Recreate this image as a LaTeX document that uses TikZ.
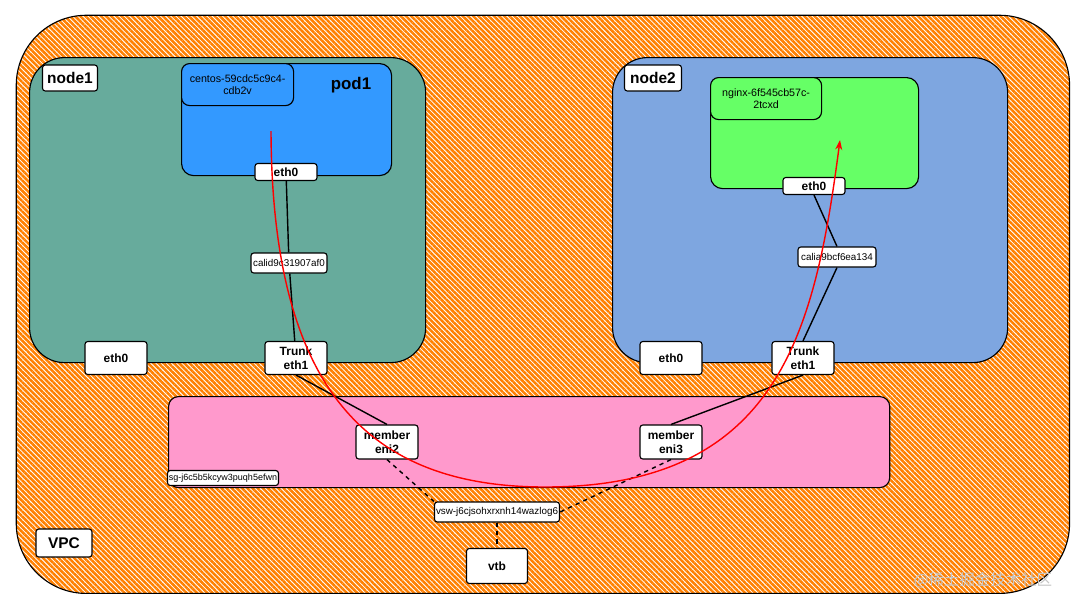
\documentclass[tikz,border=0pt]{standalone}
\usepackage{fontspec}
\setmainfont{Liberation Sans}
\newfontfamily\cjk{Noto Sans CJK SC}
\usetikzlibrary{patterns.meta,arrows.meta}
\definecolor{vpcorange}{HTML}{FF8000}
\definecolor{hostteal}{HTML}{67AB9C}
\definecolor{hostblue}{HTML}{7EA6E0}
\definecolor{podblue}{HTML}{3399FF}
\definecolor{podgreen}{HTML}{66FF66}
\definecolor{enipink}{HTML}{FF99CC}
\begin{document}
\begin{tikzpicture}[x=0.025cm,y=-0.025cm,
  area/.style={draw,line width=0.8pt,inner sep=0pt,anchor=north west},
  tag/.style={draw,fill=white,line width=0.8pt,rounded corners=2pt,inner sep=0pt,align=center},
  big/.style={font=\bfseries\fontsize{11}{12}\selectfont},
  mid/.style={font=\bfseries\fontsize{8.5}{10}\selectfont},
  tiny/.style={font=\fontsize{7}{8}\selectfont},
  link/.style={line width=1pt},
  vlink/.style={line width=1pt,dashed}]
\useasboundingbox[fill=white] (0,0) rectangle (1080,608);

% VPC
\node[area,rounded corners=1.75cm,pattern={Lines[angle=-45,distance=2.6pt,line width=1.8pt]},pattern color=vpcorange,minimum width=26.325cm,minimum height=14.45cm] (vpc) at (15,14) {};
\node[tag,big,minimum width=1.4cm,minimum height=0.7cm] (vpclabel) at (64,543) {VPC};

% Host node1
\node[area,fill=hostteal,rounded corners=0.875cm,minimum width=9.9cm,minimum height=7.625cm] (host1) at (29,57) {};
\node[tag,big,minimum width=1.375cm,minimum height=0.65cm] (host1label) at (70,78) {node1};
\node[area,fill=podblue,rounded corners=0.3cm,minimum width=5.25cm,minimum height=2.8cm] (pod1) at (181,63) {};
\node[area,fill=podblue,rounded corners=0.2cm,minimum width=2.8cm,minimum height=1.05cm,align=center,font=\fontsize{7.6}{9}\selectfont] (pod1name) at (181,63) {centos-59cdc5c9c4-\\cdb2v};
\node[font=\bfseries\fontsize{12}{13}\selectfont] (pod1title) at (351,85) {pod1};
\node[tag,mid,minimum width=1.55cm,minimum height=0.425cm] (pod1eth0) at (286,172) {eth0};
\node[tag,tiny,minimum width=1.9cm,minimum height=0.5cm] (cali1) at (289,263) {calid9c31907af0};
\node[tag,mid,minimum width=1.55cm,minimum height=0.825cm] (host1eth0) at (116,358) {eth0};
\node[tag,mid,minimum width=1.55cm,minimum height=0.825cm] (trunk1) at (296,358) {Trunk\\eth1};

% Host node2
\node[area,fill=hostblue,rounded corners=0.875cm,minimum width=9.875cm,minimum height=7.625cm] (host2) at (612,57) {};
\node[tag,big,minimum width=1.425cm,minimum height=0.65cm] (host2label) at (653,78) {node2};
\node[area,fill=podgreen,rounded corners=0.3cm,minimum width=5.2cm,minimum height=2.775cm] (pod2) at (710,77) {};
\node[area,fill=podgreen,rounded corners=0.2cm,minimum width=2.775cm,minimum height=1.05cm,align=center,font=\fontsize{7.6}{9}\selectfont] (pod2name) at (710,77) {nginx-6f545cb57c-\\2tcxd};
\node[tag,mid,minimum width=1.55cm,minimum height=0.425cm] (pod2eth0) at (814,186) {eth0};
\node[tag,tiny,minimum width=1.95cm,minimum height=0.5cm] (cali2) at (837,257) {calia9bcf6ea134};
\node[tag,mid,minimum width=1.55cm,minimum height=0.825cm] (host2eth0) at (671,358) {eth0};
\node[tag,mid,minimum width=1.55cm,minimum height=0.825cm] (trunk2) at (803,358) {Trunk\\eth1};

% Security group and member ENIs
\node[area,fill=enipink,rounded corners=0.25cm,minimum width=18.025cm,minimum height=2.275cm] (sg) at (168,396) {};
\node[tag,font=\fontsize{6.4}{7}\selectfont,minimum width=2.775cm,minimum height=0.375cm] (sglabel) at (223,478) {sg-j6c5b5kcyw3puqh5efwn};
\node[tag,mid,minimum width=1.55cm,minimum height=0.85cm] (eni2) at (387,442) {member\\eni2};
\node[tag,mid,minimum width=1.55cm,minimum height=0.85cm] (eni3) at (671,442) {member\\eni3};

% vSwitch and vtb
\node[tag,tiny,minimum width=3.125cm,minimum height=0.5cm] (vsw) at (497,512) {vsw-j6cjsohxrxnh14wazlog6};
\node[tag,mid,minimum width=1.525cm,minimum height=0.875cm] (vtb) at (497,566) {vtb};

% Links
\draw[link] (pod1eth0) -- (cali1);
\draw[link] (cali1) -- (trunk1);
\draw[link] (trunk1.south) -- (eni2.north);
\draw[link] (pod2eth0.south) -- (cali2.north);
\draw[link] (cali2.south) -- (trunk2.north);
\draw[link] (trunk2.south) -- (eni3.north);
\draw[vlink] (eni2.south) -- (vsw.north west);
\draw[vlink] (eni3.south) -- (vsw.east);
\draw[vlink] (vsw.south) -- (vtb.north);

% Traffic path
\coordinate (src) at (271,131);
\coordinate (low) at (545,487);
\coordinate (dst) at (840,140);
\draw[red,line width=1pt,-{Stealth[length=7pt,width=5pt]}] (src) .. controls (272,380) and (360,487) .. (low) .. controls (780,487) and (815,330) .. (dst);

% Watermark
\node[text=gray!45,font=\cjk\fontsize{11}{12}\selectfont] (mark) at (983,580) {@稀土掘金技术社区};
\end{tikzpicture}
\end{document}
